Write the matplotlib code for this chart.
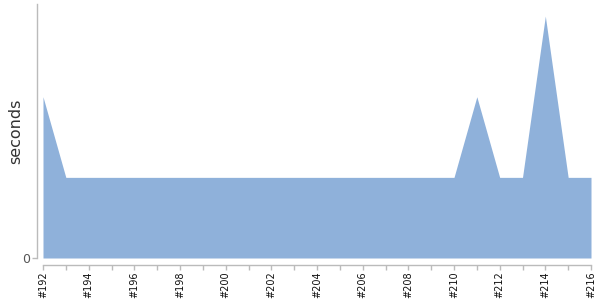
import matplotlib
matplotlib.use('Agg')
import matplotlib.pyplot as plt

# Build durations (seconds) per build number
builds = list(range(192, 217))
durations = [2, 1, 1, 1, 1, 1, 1, 1, 1, 1, 1, 1, 1, 1, 1, 1, 1, 1, 1, 2, 1, 1, 3, 1, 1]
labels = ['#%d' % b for b in builds[::2]]

fig = plt.figure(figsize=(6, 3), dpi=100)
ax = fig.add_axes([43 / 600, 1 - 258 / 300, 548 / 600, 254 / 300])

ax.fill_between(builds, durations, 0, color='#8fb1da', linewidth=0)

ax.set_xlim(builds[0], builds[-1])
ax.set_ylim(0, 3.15)

ax.set_xticks(builds, minor=True)
ax.set_xticks(builds[::2])
ax.set_xticklabels(labels)
ax.set_yticks([0])
ax.set_yticklabels(['0'])

ax.set_ylabel('seconds', fontsize=11.5, color='#333333')
ax.yaxis.set_label_coords(-0.037, 0.5)

for side in ['top', 'right']:
    ax.spines[side].set_visible(False)
ax.spines['left'].set_position(('outward', 4))
ax.spines['bottom'].set_position(('outward', 5))
for side in ['left', 'bottom']:
    ax.spines[side].set_color('#bbbbbb')
    ax.spines[side].set_linewidth(1)
ax.tick_params(axis='both', which='both', color='#bbbbbb', length=3.5, width=1)
ax.tick_params(axis='x', pad=1, labelrotation=90, labelsize=7, labelcolor='#111111')
ax.tick_params(axis='y', pad=2, labelsize=9, labelcolor='#555555')

fig.savefig('out.png', dpi=100)
